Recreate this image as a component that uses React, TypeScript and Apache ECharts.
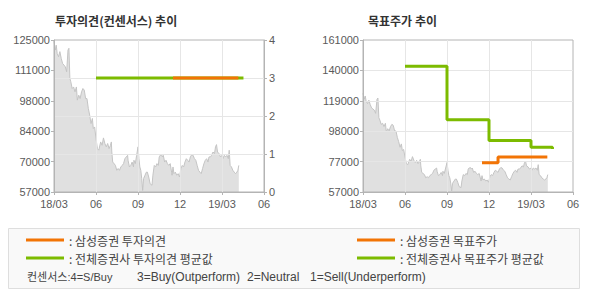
import React, { useEffect, useRef } from "react";
import * as echarts from "echarts";

const xTickLabels = ["18/03", "06", "09", "12", "19/03", "06"];
const opinionTickLabels = ["0", "1", "2", "3", "4"];
const leftPriceTickLabels = ["57000", "70000", "84000", "98000", "111000", "125000"];
const rightPriceTickLabels = ["57000", "77000", "98000", "119000", "140000", "161000"];

const priceDates = [
  "2018-03-01", "2018-03-04", "2018-03-06", "2018-03-08", "2018-03-11", "2018-03-14", "2018-03-17",
  "2018-03-20", "2018-03-23", "2018-03-26", "2018-03-29", "2018-04-01", "2018-04-03", "2018-04-05",
  "2018-04-07", "2018-04-10", "2018-04-13", "2018-04-16", "2018-04-19", "2018-04-21", "2018-04-24",
  "2018-04-27", "2018-04-30", "2018-05-03", "2018-05-06", "2018-05-09", "2018-05-12", "2018-05-15",
  "2018-05-18", "2018-05-21", "2018-05-24", "2018-05-26", "2018-05-29", "2018-06-01", "2018-06-04",
  "2018-06-07", "2018-06-11", "2018-06-14", "2018-06-17", "2018-06-20", "2018-06-23", "2018-06-26",
  "2018-06-29", "2018-07-02", "2018-07-04", "2018-07-05", "2018-07-07", "2018-07-10", "2018-07-13",
  "2018-07-16", "2018-07-19", "2018-07-22", "2018-07-25", "2018-07-28", "2018-07-31", "2018-08-03",
  "2018-08-06", "2018-08-09", "2018-08-10", "2018-08-13", "2018-08-16", "2018-08-19", "2018-08-22",
  "2018-08-23", "2018-08-26", "2018-08-29", "2018-09-01", "2018-09-03", "2018-09-05", "2018-09-07",
  "2018-09-09", "2018-09-11", "2018-09-13", "2018-09-16", "2018-09-19", "2018-09-21", "2018-09-24",
  "2018-09-27", "2018-10-01", "2018-10-03", "2018-10-06", "2018-10-09", "2018-10-12", "2018-10-15",
  "2018-10-17", "2018-10-19", "2018-10-22", "2018-10-24", "2018-10-26", "2018-10-29", "2018-11-01",
  "2018-11-04", "2018-11-07", "2018-11-10", "2018-11-13", "2018-11-14", "2018-11-16", "2018-11-18",
  "2018-11-21", "2018-11-24", "2018-11-27", "2018-11-30", "2018-12-03", "2018-12-06", "2018-12-09",
  "2018-12-12", "2018-12-15", "2018-12-18", "2018-12-21", "2018-12-24", "2018-12-27", "2018-12-30",
  "2019-01-02", "2019-01-05", "2019-01-08", "2019-01-11", "2019-01-14", "2019-01-17", "2019-01-20",
  "2019-01-23", "2019-01-26", "2019-01-29", "2019-02-01", "2019-02-03", "2019-02-06", "2019-02-08",
  "2019-02-11", "2019-02-14", "2019-02-16", "2019-02-18", "2019-02-20", "2019-02-23", "2019-02-26",
  "2019-03-01", "2019-03-03", "2019-03-06", "2019-03-09", "2019-03-12", "2019-03-15", "2019-03-17",
  "2019-03-19", "2019-03-22", "2019-03-25", "2019-03-28", "2019-03-31", "2019-04-03", "2019-04-05",
  "2019-04-07",
];
const priceValues = [
  124500, 120500, 122700, 119000, 117500, 119800, 116800,
  114500, 113800, 113000, 110800, 120500, 121300, 107800,
  106300, 103300, 104000, 101800, 104000, 98100, 100300,
  98800, 101800, 103300, 102600, 98800, 98800, 94400,
  91400, 87600, 89900, 85400, 86100, 80900, 76400,
  75700, 79400, 77900, 81200, 78700, 77200, 78700,
  76400, 77900, 79400, 74900, 70400, 69700, 68900,
  66700, 67500, 66700, 68200, 68900, 69700, 71900,
  72700, 73400, 71200, 68200, 68900, 70400, 68200,
  71200, 69700, 73400, 77200, 71900, 68200, 66700,
  63000, 57700, 63000, 64500, 65900, 65900, 63700,
  60700, 60000, 64500, 68900, 68200, 69700, 68900,
  72700, 73400, 73700, 72700, 73400, 70400, 71200,
  69700, 68900, 69700, 65900, 64500, 68200, 65200,
  65900, 64500, 65200, 63700, 67500, 68900, 68200,
  70400, 71900, 71200, 70400, 72700, 73700, 73400,
  71900, 71200, 68900, 66700, 65900, 65200, 67500,
  69700, 71200, 71900, 70400, 72700, 72700, 73400,
  74900, 74200, 77200, 78200, 74900, 74200, 72700,
  73400, 71900, 73400, 72700, 73400, 71900, 75700,
  68900, 68200, 66700, 65900, 65200, 65900, 66700,
  68900,
];

const samsungOpinionDates = ["2018-11-16", "2019-04-06"];
const samsungOpinionValues = [3, 3];
const consensusOpinionDates = ["2018-06-01", "2019-04-17"];
const consensusOpinionValues = [3, 3];

const samsungTargetDates = ["2018-11-16", "2018-12-21", "2019-04-06"];
const samsungTargetValues = [77000, 81000, 81000];
const consensusTargetDates = ["2018-06-01", "2018-09-01", "2018-12-01", "2019-03-01", "2019-04-17"];
const consensusTargetValues = [143000, 106500, 92200, 87600, 86400];

const NAME_SS_OP = "삼성증권 투자의견";
const NAME_ALL_OP = "전체증권사 투자의견 평균값";
const NAME_SS_TP = "삼성증권 목표주가";
const NAME_ALL_TP = "전체증권사 목표주가 평균값";

const ORANGE = "#f27405";
const GREEN = "#7cbb00";
const AXIS = "#b4b4b4";
const GRIDLINE = "#e6e6e6";
const LABEL = "#5a5a5a";
const FONT = '"Liberation Sans", Arial, "Noto Sans CJK KR", sans-serif';
const KFONT = '"Noto Sans CJK KR", "Liberation Sans", sans-serif';

function toMonth(s: string): number {
  const [y, m, d] = s.split("-").map(Number);
  const dim = new Date(y, m, 0).getDate();
  return (y - 2018) * 12 + (m - 3) + (d - 1) / dim;
}

function pairs(dates: string[], values: number[]) {
  return dates.map((d, i) => [toMonth(d), values[i]]);
}

export default function App() {
  const ref = useRef<HTMLDivElement>(null);

  useEffect(() => {
    if (!ref.current) return;
    const chart = echarts.init(ref.current, null, { renderer: "svg" });

    const makeX = (gridIndex: number) => ({
      type: "value",
      gridIndex,
      min: 0,
      max: 15,
      interval: 3,
      axisLine: { show: true, lineStyle: { color: AXIS } },
      axisTick: { show: true, length: 3, lineStyle: { color: AXIS } },
      axisLabel: {
        formatter: (v: number) => xTickLabels[Math.round(v / 3)] ?? "",
        color: LABEL,
        fontSize: 11,
        fontFamily: FONT,
        margin: 6,
      },
      splitLine: { show: true, showMinLine: false, showMaxLine: false, lineStyle: { color: GRIDLINE } },
    });

    const priceSeries = (idx: number) => ({
      type: "line",
      xAxisIndex: idx,
      yAxisIndex: idx === 0 ? 0 : 3,
      data: pairs(priceDates, priceValues),
      symbol: "none",
      showSymbol: false,
      silent: true,
      z: -1,
      lineStyle: { color: "#c4c4c4", width: 1 },
      areaStyle: { color: "#e0e0e0", opacity: 1, origin: "start" },
    });

    const option = {
      animation: false,
      textStyle: { fontFamily: FONT },
      grid: [
        { left: 54, top: 40, width: 210, height: 152, show: true, borderColor: AXIS, borderWidth: 1, backgroundColor: "transparent" },
        { left: 363, top: 40, width: 210, height: 152, show: true, borderColor: AXIS, borderWidth: 1, backgroundColor: "transparent" },
      ],
      xAxis: [makeX(0), makeX(1)],
      yAxis: [
        { type: "value", gridIndex: 0, min: 57000, max: 125000, show: false, position: "left" },
        {
          type: "value", gridIndex: 0, min: 0, max: 5, interval: 1, position: "left",
          axisLine: { show: true, lineStyle: { color: AXIS } },
          axisTick: { show: true, length: 3, lineStyle: { color: AXIS } },
          axisLabel: { formatter: (v: number) => leftPriceTickLabels[Math.round(v)] ?? "", color: LABEL, fontSize: 11, fontFamily: FONT, margin: 4 },
          splitLine: { show: false },
        },
        {
          type: "value", gridIndex: 0, min: 0, max: 4, interval: 1, position: "right",
          axisLine: { show: true, lineStyle: { color: AXIS } },
          axisTick: { show: true, length: 3, lineStyle: { color: AXIS } },
          axisLabel: { formatter: (v: number) => opinionTickLabels[Math.round(v)] ?? "", color: LABEL, fontSize: 11, fontFamily: FONT, margin: 5 },
          splitLine: { show: true, showMinLine: false, showMaxLine: false, lineStyle: { color: GRIDLINE } },
        },
        { type: "value", gridIndex: 1, min: 57000, max: 161000, show: false, position: "left" },
        {
          type: "value", gridIndex: 1, min: 0, max: 5, interval: 1, position: "left",
          axisLine: { show: true, lineStyle: { color: AXIS } },
          axisTick: { show: true, length: 3, lineStyle: { color: AXIS } },
          axisLabel: { formatter: (v: number) => rightPriceTickLabels[Math.round(v)] ?? "", color: LABEL, fontSize: 11, fontFamily: FONT, margin: 4 },
          splitLine: { show: true, showMinLine: false, showMaxLine: false, lineStyle: { color: GRIDLINE } },
        },
      ],
      legend: [
        {
          data: [NAME_SS_OP, NAME_ALL_OP],
          orient: "vertical",
          left: 26,
          top: 233,
          padding: 0,
          itemWidth: 38,
          itemHeight: 3,
          itemGap: 4,
          icon: "rect",
          selectedMode: false,
          formatter: ": {name}",
          textStyle: { fontSize: 12, color: "#444", fontFamily: KFONT, lineHeight: 14 },
        },
        {
          data: [NAME_SS_TP, NAME_ALL_TP],
          orient: "vertical",
          left: 357,
          top: 233,
          padding: 0,
          itemWidth: 38,
          itemHeight: 3,
          itemGap: 4,
          icon: "rect",
          selectedMode: false,
          formatter: ": {name}",
          textStyle: { fontSize: 12, color: "#444", fontFamily: KFONT, lineHeight: 14 },
        },
      ],
      graphic: [
        {
          type: "rect",
          z: -10,
          shape: { x: 8.5, y: 228.5, width: 571, height: 60 },
          style: { fill: "#f9f9f9", stroke: "#dedede", lineWidth: 1 },
        },
        {
          type: "text", x: 55, y: 20,
          style: { text: "투자의견(컨센서스) 추이", font: `bold 12px ${KFONT}`, fill: "#333", verticalAlign: "middle" },
        },
        {
          type: "text", x: 368, y: 20,
          style: { text: "목표주가 추이", font: `bold 12px ${KFONT}`, fill: "#333", verticalAlign: "middle" },
        },
        { type: "text", x: 27, y: 277, style: { text: "컨센서스:4=S/Buy", font: `11px ${FONT}`, fill: "#444", verticalAlign: "middle" } },
        { type: "text", x: 137, y: 277, style: { text: "3=Buy(Outperform)", font: `12px ${FONT}`, fill: "#444", verticalAlign: "middle" } },
        { type: "text", x: 247, y: 277, style: { text: "2=Neutral", font: `12px ${FONT}`, fill: "#444", verticalAlign: "middle" } },
        { type: "text", x: 310, y: 277, style: { text: "1=Sell(Underperform)", font: `12px ${FONT}`, fill: "#444", verticalAlign: "middle" } },
      ],
      series: [
        priceSeries(0),
        {
          name: NAME_ALL_OP, type: "line", xAxisIndex: 0, yAxisIndex: 2, color: GREEN,
          data: pairs(consensusOpinionDates, consensusOpinionValues),
          symbol: "none", lineStyle: { color: GREEN, width: 3 }, z: 3,
        },
        {
          name: NAME_SS_OP, type: "line", xAxisIndex: 0, yAxisIndex: 2, color: ORANGE,
          data: pairs(samsungOpinionDates, samsungOpinionValues),
          symbol: "none", lineStyle: { color: ORANGE, width: 3 }, z: 4,
        },
        priceSeries(1),
        {
          name: NAME_ALL_TP, type: "line", xAxisIndex: 1, yAxisIndex: 3, color: GREEN, step: "end",
          data: pairs(consensusTargetDates, consensusTargetValues),
          symbol: "none", lineStyle: { color: GREEN, width: 3 }, z: 3,
        },
        {
          name: NAME_SS_TP, type: "line", xAxisIndex: 1, yAxisIndex: 3, color: ORANGE, step: "end",
          data: pairs(samsungTargetDates, samsungTargetValues),
          symbol: "none", lineStyle: { color: ORANGE, width: 3 }, z: 4,
        },
      ],
    };

    chart.setOption(option as any);
    return () => chart.dispose();
  }, []);

  return (
    <div
      ref={ref}
      style={{ position: "fixed", left: 0, top: 0, width: 590, height: 300, background: "#fff" }}
    />
  );
}
